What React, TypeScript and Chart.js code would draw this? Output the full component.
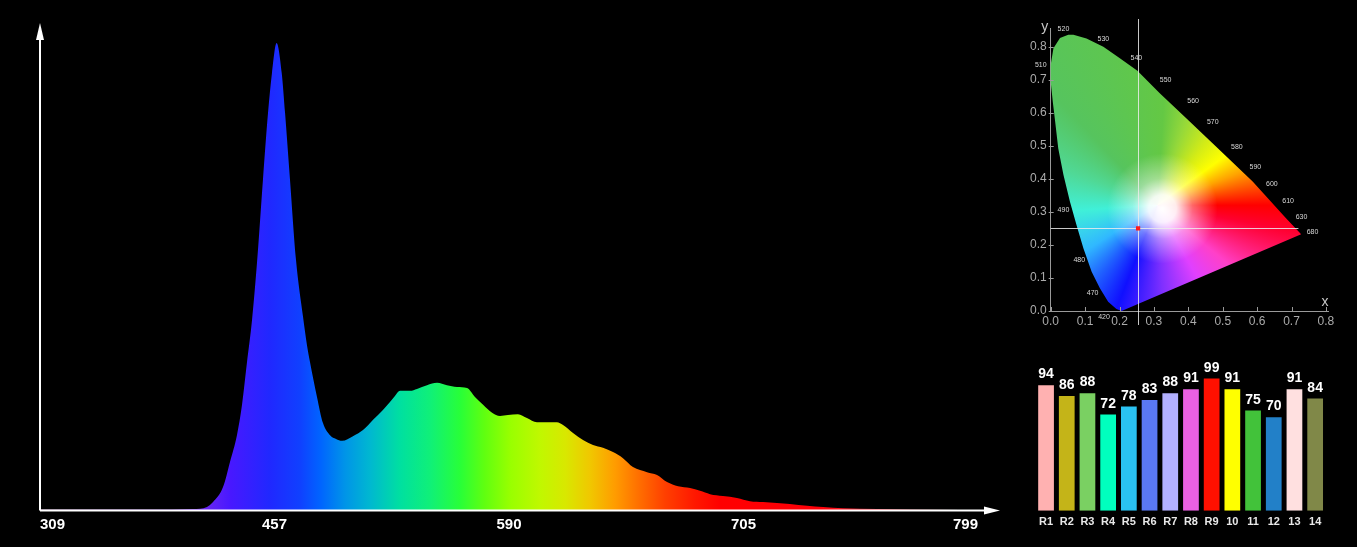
import React, { useEffect, useRef } from 'react';
import { Chart, registerables } from 'chart.js';

Chart.register(...registerables);

const FONT = "'Liberation Sans', Arial, Helvetica, sans-serif";

// ---------------- Spectrum data ----------------
const spectrumTickNm = [309, 457, 590, 705, 799];
const spectrumTickLabels = ['309', '457', '590', '705', '799'];
const spectrumNm = [
  309.0, 378.4, 405.6, 414.4, 418.2, 424.5, 428.9, 433.3, 436.5, 439.6,
  442.8, 446.0, 449.7, 452.9, 455.4, 458.2, 461.1, 463.0, 465.8, 469.2,
  473.2, 475.4, 477.1, 481.1, 484.5, 488.5, 491.9, 495.3, 501.5, 507.2,
  512.9, 518.5, 522.5, 525.3, 528.2, 533.9, 537.8, 543.5, 549.2, 554.8,
  560.5, 566.2, 570.7, 575.3, 580.4, 584.9, 589.4, 594.4, 598.8, 603.7,
  608.6, 613.5, 616.5, 621.4, 626.3, 631.2, 636.1, 641.0, 645.9, 650.8,
  657.7, 662.6, 667.5, 672.9, 678.8, 683.7, 688.6, 694.9, 701.8, 707.6,
  712.8, 718.4, 723.6, 730.5, 736.9, 744.9, 758.5, 771.7, 791.8, 799.0,
];
const spectrumIntensity = [
  0.002, 0.002, 0.003, 0.0075, 0.018, 0.050, 0.104, 0.161, 0.226, 0.316,
  0.407, 0.532, 0.707, 0.850, 0.936, 1.000, 0.936, 0.850, 0.707, 0.536,
  0.414, 0.354, 0.318, 0.243, 0.187, 0.161, 0.153, 0.149, 0.159, 0.172,
  0.194, 0.215, 0.232, 0.245, 0.256, 0.256, 0.260, 0.268, 0.273, 0.268,
  0.264, 0.262, 0.243, 0.226, 0.209, 0.202, 0.204, 0.206, 0.198, 0.189,
  0.189, 0.189, 0.183, 0.166, 0.151, 0.140, 0.134, 0.125, 0.112, 0.093,
  0.082, 0.076, 0.061, 0.052, 0.048, 0.042, 0.035, 0.031, 0.027, 0.020,
  0.018, 0.016, 0.014, 0.010, 0.0075, 0.005, 0.003, 0.002, 0.001, 0.001,
];

// ---------------- CIE 1931 data ----------------
const cieTickValues = [0, 0.1, 0.2, 0.3, 0.4, 0.5, 0.6, 0.7, 0.8];
const locusX = [
  0.206, 0.191, 0.167, 0.143, 0.119, 0.095, 0.075, 0.056, 0.037, 0.022,
  0.013, 0.006, 0.000, 0.000, 0.008, 0.027, 0.051, 0.066, 0.104, 0.153,
  0.201, 0.252, 0.317, 0.394, 0.491, 0.587, 0.684, 0.728,
];
const locusY = [
  0.000, 0.006, 0.028, 0.069, 0.119, 0.190, 0.260, 0.331, 0.412, 0.492,
  0.573, 0.634, 0.694, 0.745, 0.795, 0.826, 0.836, 0.836, 0.825, 0.800,
  0.765, 0.727, 0.659, 0.583, 0.487, 0.392, 0.281, 0.232,
];
const locusLabelText = ['520', '530', '540', '550', '560', '570', '580', '590', '600', '610', '630', '680', '510', '490', '480', '470', '420'];
const locusLabelX = [0.037, 0.153, 0.249, 0.334, 0.414, 0.471, 0.541, 0.595, 0.643, 0.690, 0.729, 0.761, -0.029, 0.037, 0.083, 0.122, 0.155];
const locusLabelY = [0.853, 0.823, 0.765, 0.698, 0.634, 0.571, 0.497, 0.437, 0.383, 0.333, 0.284, 0.238, 0.745, 0.306, 0.154, 0.055, -0.017];
const sampleX = [0.254];
const sampleY = [0.250];

// ---------------- CRI data ----------------
const criLabels = ['R1', 'R2', 'R3', 'R4', 'R5', 'R6', 'R7', 'R8', 'R9', '10', '11', '12', '13', '14'];
const criValues = [94, 86, 88, 72, 78, 83, 88, 91, 99, 91, 75, 70, 91, 84];

// ---------------- styles ----------------
const criColors = [
  '#ffb1b1', '#c4b418', '#7ad062', '#00ffbe', '#2ac2f2', '#5a78f2', '#b2b0ff',
  '#ea60e2', '#ff1000', '#ffff00', '#42c23a', '#2280c8', '#ffe0e0', '#808848',
];

const SPECTRUM_GRADIENT: [number, string][] = [
  [0.0, '#c89ac8'], [0.149, '#8040d8'], [0.171, '#7028f0'], [0.203, '#4818ff'],
  [0.245, '#2028ff'], [0.277, '#1040ff'], [0.299, '#0064ff'], [0.325, '#0094e8'],
  [0.352, '#00b8d0'], [0.384, '#00e0a0'], [0.416, '#10f078'], [0.448, '#28ff38'],
  [0.474, '#60ff10'], [0.501, '#98ff00'], [0.533, '#c0f800'], [0.560, '#d8e800'],
  [0.586, '#f0c800'], [0.613, '#ff9c00'], [0.640, '#ff6c00'], [0.666, '#ff4000'],
  [0.698, '#ff1800'], [0.725, '#ff0000'], [0.832, '#ff0008'], [0.885, '#f03040'],
  [0.938, '#e07880'], [0.981, '#f0d0d0'], [1.0, '#f8e8e8'],
];

// hue wheel around the white area of the horseshoe (clockwise on screen from +x)
const CIE_HUE_CENTER = [0.31, 0.32];
const CIE_HUE_STOPS: [number, string][] = [
  [0.0, '#ff0000'], [0.03, '#ff0030'], [0.11, '#ff40c8'], [0.17, '#e040ff'],
  [0.24, '#8030ff'], [0.31, '#1010ff'], [0.36, '#2060ff'], [0.41, '#30b8ff'],
  [0.49, '#40f0d8'], [0.56, '#50d894'], [0.63, '#56c45e'], [0.76, '#64c844'],
  [0.80, '#94d83a'], [0.855, '#d4ec16'], [0.90, '#ffff00'], [0.94, '#ffa400'],
  [0.97, '#ff5000'], [1.0, '#ff0000'],
];
const CIE_WHITE = { x: 0.325, y: 0.31, r: 0.16 };

function nmToSlot(nm: number): number {
  const t = spectrumTickNm;
  for (let i = 0; i < t.length - 1; i++) {
    if (nm <= t[i + 1]) return i + (nm - t[i]) / (t[i + 1] - t[i]);
  }
  return t.length - 1;
}

const spectrumAxesPlugin = {
  id: 'spectrumAxes',
  afterDraw(chart: any) {
    const { ctx, chartArea: a } = chart;
    ctx.save();
    ctx.strokeStyle = '#ffffff';
    ctx.fillStyle = '#ffffff';
    ctx.lineWidth = 2;
    ctx.beginPath();
    ctx.moveTo(a.left, a.bottom);
    ctx.lineTo(a.left, a.top + 10);
    ctx.moveTo(a.left, a.bottom);
    ctx.lineTo(a.right + 8, a.bottom);
    ctx.stroke();
    ctx.beginPath();
    ctx.moveTo(a.left - 4, a.top + 12);
    ctx.lineTo(a.left + 4, a.top + 12);
    ctx.lineTo(a.left, a.top - 5);
    ctx.closePath();
    ctx.fill();
    ctx.beginPath();
    ctx.moveTo(a.right + 6, a.bottom - 4);
    ctx.lineTo(a.right + 6, a.bottom + 4);
    ctx.lineTo(a.right + 22, a.bottom);
    ctx.closePath();
    ctx.fill();
    ctx.restore();
  },
};

const ciePlugin = {
  id: 'cieDiagram',
  beforeDatasetsDraw(chart: any) {
    const { ctx, chartArea: a, scales } = chart;
    const xs = scales.x;
    const ys = scales.y;
    const unit = xs.getPixelForValue(1) - xs.getPixelForValue(0);
    ctx.save();
    ctx.beginPath();
    locusX.forEach((x, i) => {
      const px = xs.getPixelForValue(x);
      const py = ys.getPixelForValue(locusY[i]);
      if (i === 0) ctx.moveTo(px, py);
      else ctx.lineTo(px, py);
    });
    ctx.closePath();
    const hx = xs.getPixelForValue(CIE_HUE_CENTER[0]);
    const hy = ys.getPixelForValue(CIE_HUE_CENTER[1]);
    const conic = ctx.createConicGradient(0, hx, hy);
    CIE_HUE_STOPS.forEach(([f, c]) => conic.addColorStop(f, c));
    ctx.fillStyle = conic;
    ctx.fill();
    ctx.clip();
    const wx = xs.getPixelForValue(CIE_WHITE.x);
    const wy = ys.getPixelForValue(CIE_WHITE.y);
    const wr = CIE_WHITE.r * unit;
    const rg = ctx.createRadialGradient(wx, wy, 0, wx, wy, wr);
    rg.addColorStop(0, 'rgba(255,255,255,1)');
    rg.addColorStop(0.25, 'rgba(255,255,255,0.92)');
    rg.addColorStop(0.55, 'rgba(255,255,255,0.4)');
    rg.addColorStop(1, 'rgba(255,255,255,0)');
    ctx.fillStyle = rg;
    ctx.fillRect(wx - wr, wy - wr, wr * 2, wr * 2);
    ctx.restore();

    const sx = xs.getPixelForValue(sampleX[0]);
    const sy = ys.getPixelForValue(sampleY[0]);
    ctx.save();
    ctx.strokeStyle = 'rgba(235,235,235,0.85)';
    ctx.lineWidth = 1;
    ctx.beginPath();
    ctx.moveTo(Math.round(sx) + 0.5, a.top - 9);
    ctx.lineTo(Math.round(sx) + 0.5, a.bottom + 14);
    ctx.moveTo(a.left, Math.round(sy) + 0.5);
    ctx.lineTo(xs.getPixelForValue(0.72), Math.round(sy) + 0.5);
    ctx.stroke();
    ctx.restore();
  },
  afterDraw(chart: any) {
    const { ctx, chartArea: a, scales } = chart;
    const xs = scales.x;
    const ys = scales.y;
    ctx.save();
    ctx.strokeStyle = '#9a9a9a';
    ctx.lineWidth = 1;
    ctx.beginPath();
    cieTickValues.forEach((v) => {
      const px = Math.round(xs.getPixelForValue(v)) + 0.5;
      ctx.moveTo(px, a.bottom);
      ctx.lineTo(px, a.bottom - 4);
      const py = Math.round(ys.getPixelForValue(v)) + 0.5;
      ctx.moveTo(a.left - 2, py);
      ctx.lineTo(a.left + 3, py);
    });
    ctx.stroke();
    ctx.fillStyle = '#d8d8d8';
    ctx.font = `7px ${FONT}`;
    ctx.textAlign = 'center';
    ctx.textBaseline = 'middle';
    locusLabelText.forEach((t, i) => {
      ctx.fillText(t, xs.getPixelForValue(locusLabelX[i]), ys.getPixelForValue(locusLabelY[i]));
    });
    ctx.fillStyle = '#c8c8c8';
    ctx.font = `14px ${FONT}`;
    ctx.fillText('y', a.left - 6, a.top - 1);
    ctx.fillText('x', a.right - 3, a.bottom - 9);
    ctx.restore();
  },
};

const barValuePlugin = {
  id: 'barValues',
  afterDatasetsDraw(chart: any) {
    const { ctx } = chart;
    const meta = chart.getDatasetMeta(0);
    ctx.save();
    ctx.fillStyle = '#ffffff';
    ctx.font = `bold 14px ${FONT}`;
    ctx.textAlign = 'center';
    ctx.textBaseline = 'alphabetic';
    meta.data.forEach((bar: any, i: number) => {
      ctx.fillText(String(criValues[i]), bar.x, bar.y - 7);
    });
    ctx.restore();
  },
};

function makeSpectrum(canvas: HTMLCanvasElement) {
  return new Chart(canvas, {
    type: 'line',
    data: {
      datasets: [
        {
          data: spectrumNm.map((nm, i) => ({ x: nmToSlot(nm), y: spectrumIntensity[i] })),
          fill: 'origin',
          backgroundColor: (c: any) => {
            const chart = c.chart;
            const area = chart.chartArea;
            if (!area) return 'rgba(0,0,0,0)';
            const g = chart.ctx.createLinearGradient(area.left, 0, area.right, 0);
            SPECTRUM_GRADIENT.forEach(([f, col]) => g.addColorStop(f, col));
            return g;
          },
          borderWidth: 0,
          pointRadius: 0,
          cubicInterpolationMode: 'monotone',
        },
      ],
    },
    options: {
      animation: false,
      responsive: false,
      devicePixelRatio: 1,
      layout: { padding: { left: 40, right: 32, top: 28, bottom: 0 } },
      plugins: { legend: { display: false }, tooltip: { enabled: false } },
      scales: {
        x: {
          type: 'linear',
          min: 0,
          max: spectrumTickLabels.length - 1,
          grid: { display: false, drawTicks: false },
          border: { display: false },
          afterBuildTicks: (s: any) => {
            s.ticks = spectrumTickLabels.map((_, i) => ({ value: i }));
          },
          afterFit: (s: any) => {
            s.height = 36.5;
          },
          ticks: {
            color: '#ffffff',
            font: { family: FONT, size: 15, weight: 'bold' },
            align: 'inner',
            padding: 5,
            maxRotation: 0,
            autoSkip: false,
            callback: (v: any) => spectrumTickLabels[Math.round(v)],
          },
        },
        y: { display: false, min: 0, max: 1.032 },
      },
    } as any,
    plugins: [spectrumAxesPlugin],
  });
}

function makeCie(canvas: HTMLCanvasElement) {
  const tickOpts = {
    color: '#ababab',
    font: { family: FONT, size: 12 },
    maxRotation: 0,
    autoSkip: false,
    callback: (v: any) => Number(v).toFixed(1),
  };
  return new Chart(canvas, {
    type: 'scatter',
    data: {
      datasets: [
        {
          data: locusX.map((x, i) => ({ x, y: locusY[i] })),
          pointRadius: 0,
          showLine: false,
        },
        {
          data: sampleX.map((x, i) => ({ x, y: sampleY[i] })),
          pointStyle: 'rect',
          pointRadius: 3,
          backgroundColor: '#ff1a1a',
          borderWidth: 0,
        },
      ],
    },
    options: {
      animation: false,
      responsive: false,
      devicePixelRatio: 1,
      layout: { padding: { left: 0, right: 29, top: 28, bottom: 0 } },
      plugins: { legend: { display: false }, tooltip: { enabled: false } },
      scales: {
        x: {
          type: 'linear',
          min: 0,
          max: 0.806,
          grid: { display: false, drawTicks: false },
          border: { display: true, color: '#9a9a9a', width: 1 },
          afterBuildTicks: (s: any) => {
            s.ticks = cieTickValues.map((v) => ({ value: v }));
          },
          afterFit: (s: any) => {
            s.height = 24;
          },
          ticks: { ...tickOpts, padding: 3 },
        },
        y: {
          type: 'linear',
          min: 0,
          max: 0.8565,
          grid: { display: false, drawTicks: false },
          border: { display: true, color: '#9a9a9a', width: 1 },
          afterBuildTicks: (s: any) => {
            s.ticks = cieTickValues.map((v) => ({ value: v }));
          },
          afterFit: (s: any) => {
            s.width = 40.7;
          },
          ticks: { ...tickOpts, padding: 4 },
        },
      },
    } as any,
    plugins: [ciePlugin],
  });
}

function makeCri(canvas: HTMLCanvasElement) {
  return new Chart(canvas, {
    type: 'bar',
    data: {
      labels: criLabels,
      datasets: [
        {
          data: criValues,
          backgroundColor: criColors,
          borderWidth: 0,
          barPercentage: 0.76,
          categoryPercentage: 1,
        },
      ],
    },
    options: {
      animation: false,
      responsive: false,
      devicePixelRatio: 1,
      layout: { padding: { left: 25.7, right: 31.5, top: 42.2, bottom: 0 } },
      plugins: { legend: { display: false }, tooltip: { enabled: false } },
      scales: {
        x: {
          grid: { display: false, drawTicks: false },
          border: { display: false },
          afterFit: (s: any) => {
            s.height = 36.3;
          },
          ticks: {
            color: '#e8e8e8',
            font: { family: FONT, size: 11, weight: 'bold' },
            padding: 5,
            maxRotation: 0,
            autoSkip: false,
          },
        },
        y: { display: false, min: 0, max: 100 },
      },
    } as any,
    plugins: [barValuePlugin],
  });
}

export default function App() {
  const specRef = useRef<HTMLCanvasElement>(null);
  const cieRef = useRef<HTMLCanvasElement>(null);
  const criRef = useRef<HTMLCanvasElement>(null);

  useEffect(() => {
    const charts = [
      makeSpectrum(specRef.current as HTMLCanvasElement),
      makeCie(cieRef.current as HTMLCanvasElement),
      makeCri(criRef.current as HTMLCanvasElement),
    ];
    return () => charts.forEach((c) => c.destroy());
  }, []);

  return (
    <div
      style={{
        position: 'fixed',
        left: 0,
        top: 0,
        width: 1357,
        height: 547,
        background: '#000',
        overflow: 'hidden',
      }}
    >
      <canvas
        ref={specRef}
        width={1010}
        height={547}
        style={{ position: 'absolute', left: 0, top: 0, width: 1010, height: 547 }}
      />
      <canvas
        ref={cieRef}
        width={347}
        height={335}
        style={{ position: 'absolute', left: 1010, top: 0, width: 347, height: 335 }}
      />
      <canvas
        ref={criRef}
        width={347}
        height={212}
        style={{ position: 'absolute', left: 1010, top: 335, width: 347, height: 212 }}
      />
    </div>
  );
}
